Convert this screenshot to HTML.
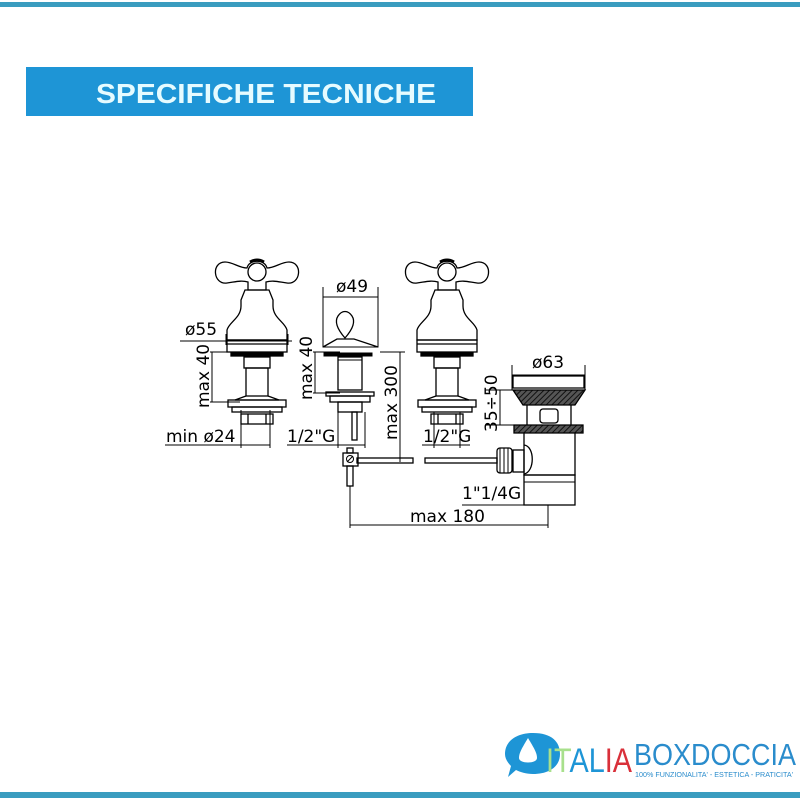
<!DOCTYPE html>
<html><head><meta charset="utf-8"><style>
html,body{margin:0;padding:0;background:#fff;width:800px;height:800px;overflow:hidden}
</style></head><body>
<svg width="800" height="800" viewBox="0 0 800 800" xmlns="http://www.w3.org/2000/svg" font-family="'DejaVu Sans','Liberation Sans',sans-serif">
<defs>
<pattern id="h" width="4" height="4" patternUnits="userSpaceOnUse" patternTransform="rotate(45)"><rect width="4" height="4" fill="#555"/><line x1="0" y1="0" x2="0" y2="4" stroke="#111" stroke-width="2"/></pattern>
<g id="tap" fill="none" stroke="#000" stroke-width="1.3">
<path d="M-9,290 L-9,282 C-16,280 -22,282 -30,283 C-44,285 -46,262 -32,262 C-24,262 -18,268 -10,268 C-8,259 8,259 10,268 C18,268 24,262 32,262 C46,262 44,285 30,283 C22,282 16,280 9,282 L9,290 Z"/>
<circle cx="0" cy="272" r="9"/>
<path d="M-7,262 Q0,258 7,262" stroke-width="3"/>
<path d="M-12,290 L12,290 L16,300 L16,306 C16,318 28,322 30,330 L30,340 L-30,340 L-30,330 C-28,322 -16,318 -16,306 L-16,300 Z"/>
<rect x="-30" y="340" width="60" height="12"/>
<line x1="-30" y1="344" x2="30" y2="344"/>
<rect x="-26" y="353" width="52" height="3" fill="#000"/>
<rect x="-13" y="357" width="26" height="11"/>
<rect x="-11" y="368" width="22" height="28"/>
<path d="M-11,396 L-22,400 L22,400 L11,396"/>
<rect x="-29" y="400" width="58" height="7"/>
<rect x="-25" y="407" width="50" height="5"/>
<rect x="-16" y="414" width="32" height="10"/>
<line x1="-9" y1="414" x2="-9" y2="424"/><line x1="9" y1="414" x2="9" y2="424"/>
</g>
</defs>
<rect x="0" y="2" width="800" height="5" fill="#3a9cbf"/>
<rect x="26" y="67" width="447" height="49" fill="#1e95d6"/>
<text x="266" y="103" text-anchor="middle" font-family="'Liberation Sans',sans-serif" font-weight="bold" font-size="28" fill="#e6fbff" textLength="340" lengthAdjust="spacingAndGlyphs">SPECIFICHE TECNICHE</text>

<use href="#tap" x="257" y="0"/>
<use href="#tap" x="447" y="0"/>

<g fill="none" stroke="#000" stroke-width="1">
<line x1="180" y1="341" x2="292" y2="341"/>
<line x1="226" y1="334" x2="226" y2="345"/><line x1="288" y1="334" x2="288" y2="345"/>
<line x1="210" y1="352" x2="240" y2="352"/><line x1="210" y1="402" x2="240" y2="402"/>
<line x1="212" y1="352" x2="212" y2="402"/>
<line x1="165" y1="445" x2="270" y2="445"/>
<line x1="241" y1="410" x2="241" y2="448"/><line x1="270" y1="410" x2="270" y2="448"/>
<rect x="323" y="297" width="55" height="50"/>
<line x1="323" y1="287" x2="323" y2="297"/><line x1="378" y1="287" x2="378" y2="297"/>
<path d="M345,338 C338,330 334,322 338,316 C342,310 348,310 352,316 C356,322 352,330 345,338 Z" stroke-width="1.3"/>
<path d="M323,347 L337,339 L354,339 L378,347" stroke-width="1.3"/>
<rect x="324" y="353" width="48" height="3" fill="#000"/>
<rect x="338" y="357" width="24" height="33" stroke-width="1.3"/>
<line x1="338" y1="360" x2="362" y2="360"/>
<rect x="326" y="392" width="48" height="4" stroke-width="1.3"/>
<rect x="330" y="396" width="40" height="6" stroke-width="1.3"/>
<rect x="338" y="402" width="24" height="10" stroke-width="1.3"/>
<rect x="352" y="412" width="5" height="28" stroke-width="1.3"/>
<line x1="313" y1="352" x2="340" y2="352"/><line x1="313" y1="393" x2="340" y2="393"/>
<line x1="315" y1="352" x2="315" y2="393"/>
<line x1="287" y1="445" x2="365" y2="445"/>
<line x1="338" y1="412" x2="338" y2="448"/><line x1="365" y1="412" x2="365" y2="448"/>
<line x1="380" y1="352" x2="405" y2="352"/>
<line x1="400" y1="352" x2="400" y2="462"/>
<rect x="357" y="458" width="56" height="5" stroke-width="1.3"/>
<rect x="425" y="458" width="72" height="5" stroke-width="1.3"/>
<rect x="343" y="453" width="15" height="13" stroke-width="1.3"/>
<circle cx="350" cy="459" r="3.5"/>
<line x1="347" y1="462" x2="353" y2="456"/>
<rect x="347" y="448" width="6" height="5" stroke-width="1.3"/>
<rect x="347" y="466" width="6" height="20" stroke-width="1.3"/>
<line x1="350" y1="486" x2="350" y2="528"/>
<line x1="350" y1="525" x2="548" y2="525"/>
<line x1="548" y1="505" x2="548" y2="528"/>
<line x1="422" y1="445" x2="470" y2="445"/>
<line x1="434" y1="412" x2="434" y2="448"/><line x1="460" y1="412" x2="460" y2="448"/>
<line x1="512" y1="365" x2="512" y2="390"/><line x1="585" y1="365" x2="585" y2="390"/>
<line x1="512" y1="375" x2="585" y2="375"/>
<path d="M513,376 L584,376 L584,388 L513,388 Z" stroke-width="1.3"/>
<path d="M513,390 L585,390 L575,405 L523,405 Z" fill="url(#h)" stroke-width="1.3"/>
<path d="M527,405 L527,425 M571,405 L571,425" stroke-width="1.3"/>
<rect x="540" y="409" width="18" height="14" rx="3" stroke-width="1.3"/>
<line x1="485" y1="390" x2="515" y2="390"/><line x1="485" y1="425" x2="515" y2="425"/>
<line x1="500" y1="390" x2="500" y2="425"/>
<path d="M514,425 L583,425 L583,433 L514,433 Z" fill="url(#h)" stroke-width="1.3"/>
<path d="M524,433 L524,475 L575,475 L575,433" stroke-width="1.3"/>
<path d="M524,445 C535,446 535,472 524,474" stroke-width="1.3"/>
<rect x="513" y="450" width="11" height="22" stroke-width="1.3"/>
<rect x="497" y="448" width="15" height="25" rx="3" stroke-width="1.3"/>
<line x1="500" y1="448" x2="500" y2="473"/><line x1="504" y1="448" x2="504" y2="473"/><line x1="508" y1="448" x2="508" y2="473"/>
<rect x="524" y="475" width="51" height="30" stroke-width="1.3"/>
<line x1="524" y1="482" x2="575" y2="482"/>
<line x1="462" y1="505" x2="575" y2="505"/>
</g>
<g font-size="17" fill="#000">
<text x="185" y="335">ø55</text>
<text x="336" y="292">ø49</text>
<text x="532" y="368">ø63</text>
<text x="166" y="442">min ø24</text>
<text x="287" y="442">1/2"G</text>
<text x="423" y="442">1/2"G</text>
<text x="462" y="499">1"1/4G</text>
<text x="410" y="522">max 180</text>
<text transform="translate(209,408) rotate(-90)">max 40</text>
<text transform="translate(312,400) rotate(-90)">max 40</text>
<text transform="translate(397,440) rotate(-90)">max 300</text>
<text transform="translate(497,432) rotate(-90)">35÷50</text>
</g>
<path d="M505,754 C505,740 518,733 533,733 C552,733 560,742 560,754 C560,766 550,774 533,774 C526,774 520,772 516,770 L508,777 L511,766 C507,762 505,758 505,754 Z" fill="#1e95d6"/>
<path d="M528,738 C522,748 519,753 519,758 C519,764 537,764 537,758 C537,753 534,748 528,738 Z" fill="#fff"/>
<text x="546" y="772" font-family="'Liberation Sans',sans-serif" font-size="34" fill="#1e95d6" textLength="86" lengthAdjust="spacingAndGlyphs"><tspan fill="#a8e08c">IT</tspan>AL<tspan fill="#d9303a">IA</tspan></text>
<text x="634" y="765" font-family="'Liberation Sans',sans-serif" font-size="31" fill="#2a8ccc" textLength="162" lengthAdjust="spacingAndGlyphs">BOXDOCCIA</text>
<text x="635" y="777" font-family="'Liberation Sans',sans-serif" font-size="7" fill="#2a8ccc" textLength="158" lengthAdjust="spacingAndGlyphs">100% FUNZIONALITA' - ESTETICA - PRATICITA'</text>
<rect x="0" y="792" width="800" height="6" fill="#3a9cbf"/>
</svg>
</body></html>
